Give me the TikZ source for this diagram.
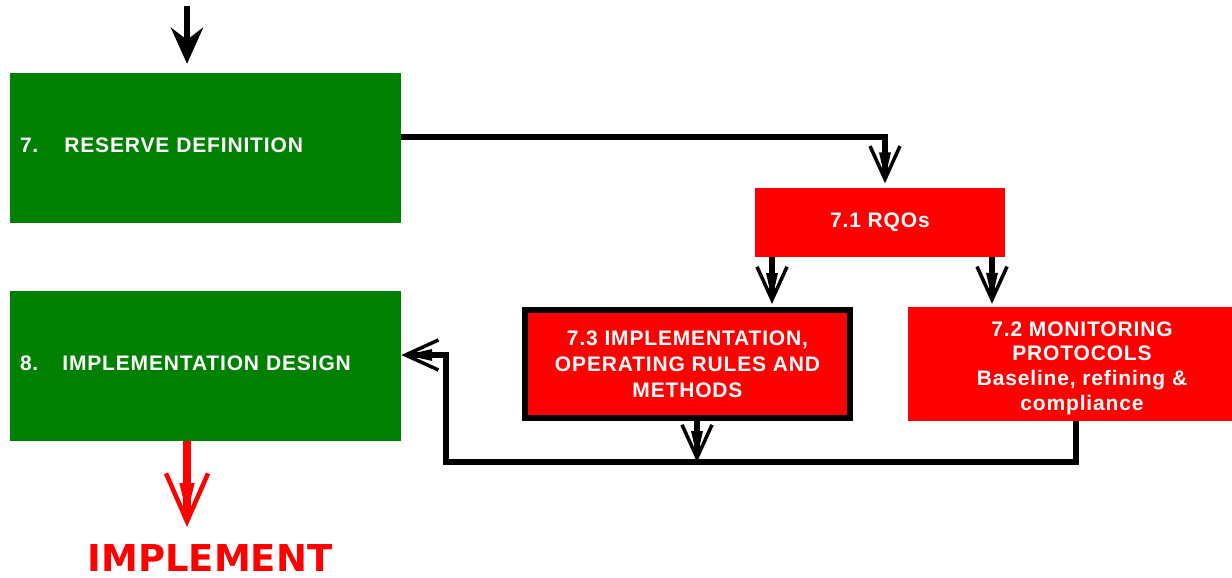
\documentclass[tikz,border=0pt]{standalone}
\usepackage{fontspec}
\setmainfont{Liberation Sans}[LetterSpace=4]
\newfontfamily\implfont{DejaVu Sans}
\usetikzlibrary{arrows.meta}
\definecolor{boxgreen}{RGB}{0,128,0}
\definecolor{boxred}{RGB}{255,0,0}
\tikzset{
  greenbox/.style={fill=boxgreen, minimum width=391pt, minimum height=150pt, inner sep=0pt,
    text width=371pt, text depth=6pt, align=left, text=white, font=\fontsize{21}{26}\selectfont\bfseries},
  redbox/.style={fill=boxred, inner sep=0pt, text=white, align=center,
    font=\fontsize{21}{26}\selectfont\bfseries},
  conn/.style={draw=black, line width=5.5pt},
  barb/.style={-{Straight Barb[length=33pt,width=30pt,line width=3.5pt]},
    postaction={draw, -{Stealth[length=31pt,width=10pt,inset=0pt]}}},
}
\begin{document}
\begin{tikzpicture}[x=1pt,y=-1pt]
\useasboundingbox (0,0) rectangle (1232,578);

% helper coordinates (positions of vertical connector lines)
\coordinate (xtop) at (187,6);
\coordinate (xa) at (772,0);
\coordinate (xb) at (992,0);
\coordinate (xc) at (697,0);
\coordinate (xf) at (1076,0);
\coordinate (xv) at (446,0);
\coordinate (yl) at (0,462);
\coordinate (impltip) at (187,527);

% boxes
\node[greenbox] (b7) at (205.5,148) {7.\hspace{26pt}RESERVE DEFINITION};
\node[greenbox] (b8) at (205.5,366) {8.\hspace{24pt}IMPLEMENTATION DESIGN};
\node[redbox, minimum width=250pt, minimum height=69pt] (r71) at (880,222) {7.1 RQOs};
\node[redbox, draw=black, line width=6pt, minimum width=325pt, minimum height=108pt] (r73) at (687.5,364)
  {7.3 IMPLEMENTATION,\\OPERATING RULES AND\\METHODS};
\node[redbox, minimum width=324pt, minimum height=114pt] (r72) at (1070,364) {};
\node[text=white, align=center, font=\fontsize{21}{24.7}\selectfont\bfseries] (t72) at (1082,368)
  {7.2 MONITORING\\PROTOCOLS\\Baseline, refining \&\\compliance};

\node[text=boxred, font=\implfont\fontsize{37}{40}\selectfont\bfseries] (impl) at (210,558) {IMPLEMENT};

% connectors
\draw[line width=6.5pt, -{Stealth[length=36pt,width=32pt,inset=12pt]}, shorten >=9pt]
  (xtop) -- (xtop |- b7.north);
\draw[conn, barb, shorten >=4pt] ([yshift=11pt]b7.east) -| ([xshift=5pt]r71.north);
\draw[conn, barb, shorten >=3pt] (r71.south -| xa) -- (r73.north -| xa);
\draw[conn, barb, shorten >=3pt] (r71.south -| xb) -- (r72.north -| xb);
\draw[conn, barb] (r72.south -| xf) |- (xv |- yl) |- ([yshift=11pt]b8.east);
\draw[conn, barb] (r73.south -| xc) -- (xc |- yl);
\draw[draw=boxred, line width=8pt,
  -{Straight Barb[length=48pt,width=42pt,line width=4.5pt]},
  postaction={draw, -{Stealth[length=44pt,width=12pt,inset=0pt]}}]
  (b8.south -| xtop) -- (impltip);
\end{tikzpicture}
\end{document}
